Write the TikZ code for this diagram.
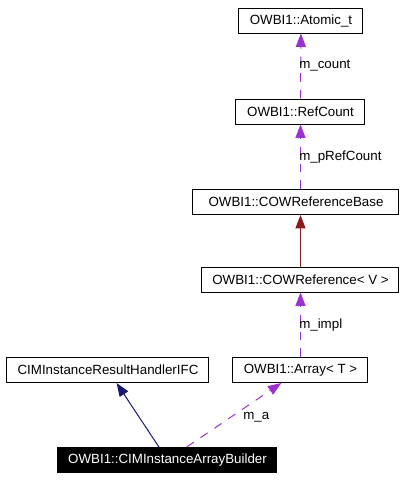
\documentclass[tikz,border=0pt]{standalone}
\usepackage{fontspec}
\setmainfont{Liberation Sans}
\usetikzlibrary{arrows.meta,positioning,calc}
\definecolor{Member}{HTML}{9A32CD}
\definecolor{Base}{HTML}{191970}
\definecolor{Tmpl}{HTML}{8B1A1A}

\begin{document}
\begin{tikzpicture}[x=0.75pt,y=-0.75pt,font=\fontsize{10}{12}\selectfont,
    cls/.style={draw,line width=0.75pt,fill=white,minimum height=18.75pt,inner sep=0pt},
    lbl/.style={anchor=west,inner sep=0pt},
    tip/.style={-{Triangle[length=10pt,width=7.5pt]}},
    member/.style={tip,Member,line width=0.75pt,dash pattern=on 6.5pt off 6pt},
    inherit/.style={tip,line width=0.75pt}]
        \useasboundingbox (0,0) rectangle (405,480);
        % classes
        \node[cls,minimum width=93pt] (atm) at (301,20.5) {OWBI1::Atomic\_t};
        \node[cls,minimum width=96.75pt] (rc) at (300.5,111.5) {OWBI1::RefCount};
        \node[cls,minimum width=154.5pt] (crb) at (296,202) {OWBI1::COWReferenceBase};
        \node[cls,minimum width=147.75pt] (cr) at (300.5,279.5) {OWBI1::COWReference< V >};
        \node[cls,minimum width=151.5pt] (ifc) at (108,370) {CIMInstanceResultHandlerIFC};
        \node[cls,minimum width=101.25pt] (arr) at (300.5,370) {OWBI1::Array< T >};
        \node[cls,fill=black,text=white,minimum width=164.25pt] (bld) at (167.5,460) {OWBI1::CIMInstanceArrayBuilder};
        % connectors
        \draw[member] (rc) -- (atm);
        \draw[member] (crb.north -| rc) -- (rc);
        \draw[inherit,Tmpl] (cr) -- (cr |- crb.south);
        \draw[member] (arr) -- (cr);
        \draw[inherit,Base] (bld) -- (ifc);
        \draw[member] (bld) -- (arr);
        % labels
        \node[lbl] (lcnt) at (299,66) {m\_count};
        \node[lbl] (lprc) at (299,157) {m\_pRefCount};
        \node[lbl] (limp) at (299,325) {m\_impl};
        \node[lbl] (la) at (243,417) {m\_a};
      \end{tikzpicture}
\end{document}
